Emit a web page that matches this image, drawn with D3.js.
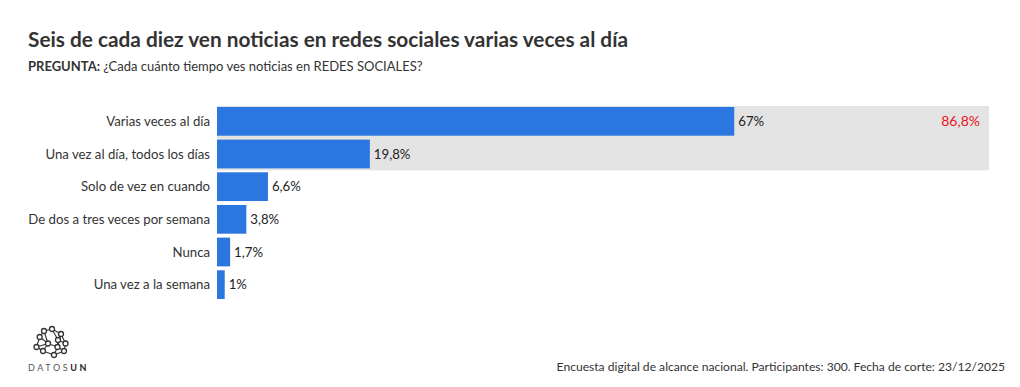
<!DOCTYPE html>
<html>
<head>
<meta charset="utf-8">
<script src="https://cdn.jsdelivr.net/npm/d3@7"></script>
<style>
  body { margin: 0; background: #fff; }
  svg { display: block; font-family: "Source Sans Pro", Lato, sans-serif; }
</style>
</head>
<body>
<div id="chart"></div>
<script>
const categories = ['Varias veces al día', 'Una vez al día, todos los días', 'Solo de vez en cuando',
  'De dos a tres veces por semana', 'Nunca', 'Una vez a la semana'];
const values = [67, 19.8, 6.6, 3.8, 1.7, 1];
const highlighted = ['Varias veces al día', 'Una vez al día, todos los días'];
const highlightTotal = 86.8;

const fmt = v => String(v).replace('.', ',') + '%';

const svg = d3.select('#chart').append('svg')
  .attr('width', 1020)
  .attr('height', 387);

// titles
svg.append('text')
  .attr('x', 28).attr('y', 47)
  .attr('font-size', '20.8px').attr('font-weight', 'bold').attr('fill', '#333')
  .text('Seis de cada diez ven noticias en redes sociales varias veces al día');

const sub = svg.append('text')
  .attr('x', 28).attr('y', 71)
  .attr('font-size', '13px').attr('fill', '#333');
sub.append('tspan').attr('font-weight', 'bold').text('PREGUNTA: ');
sub.append('tspan').text('¿Cada cuánto tiempo ves noticias en REDES SOCIALES?');

const x = d3.scaleLinear().domain([0, 100]).range([217, 989]);
const y = d3.scaleBand().domain(categories).range([106, 300]).paddingInner(0.12).paddingOuter(0.03);

// gray highlight band behind the first two rows
const y0 = y(highlighted[0]) - y.step() * y.paddingInner() / 2 + 1;
const y1 = y(highlighted[highlighted.length - 1]) + y.bandwidth() + y.step() * y.paddingInner() / 2;
svg.append('rect')
  .attr('x', x(0)).attr('y', y0)
  .attr('width', x(100) - x(0)).attr('height', y1 - y0)
  .attr('fill', '#e3e3e3');

svg.append('text')
  .attr('x', x(100) - 9).attr('y', y(highlighted[0]) + y.bandwidth() / 2)
  .attr('dy', '0.35em').attr('text-anchor', 'end')
  .attr('font-size', '14px').attr('fill', '#e8131b')
  .text(fmt(highlightTotal));

const rows = categories.map((c, i) => ({ cat: c, val: values[i] }));

svg.selectAll('.bar')
  .data(rows)
  .enter().append('rect')
  .attr('class', 'bar')
  .attr('x', x(0))
  .attr('y', d => y(d.cat))
  .attr('width', d => x(d.val) - x(0))
  .attr('height', y.bandwidth())
  .attr('fill', '#2b76e0');

svg.selectAll('.val')
  .data(rows)
  .enter().append('text')
  .attr('class', 'val')
  .attr('x', d => x(d.val) + 4)
  .attr('y', d => y(d.cat) + y.bandwidth() / 2)
  .attr('dy', '0.35em')
  .attr('font-size', '13.2px').attr('fill', '#222')
  .text(d => fmt(d.val));

svg.selectAll('.cat')
  .data(rows)
  .enter().append('text')
  .attr('class', 'cat')
  .attr('x', 210)
  .attr('y', d => y(d.cat) + y.bandwidth() / 2)
  .attr('dy', '0.35em')
  .attr('text-anchor', 'end')
  .attr('font-size', '13.2px').attr('fill', '#333')
  .text(d => d.cat);

// logo
const nodes = [[39.7, 337], [44, 331], [52, 329], [61, 334], [65.5, 343.5], [64, 351], [54, 355],
  [43, 351], [36.5, 347], [48, 343.5], [57.5, 347], [58, 340]];
const links = [[0, 1], [1, 2], [2, 3], [3, 4], [4, 5], [5, 6], [6, 7], [7, 8], [8, 0], [0, 9], [1, 9],
  [9, 10], [10, 5], [10, 6], [9, 7], [11, 3], [11, 4], [11, 10], [2, 11], [9, 8], [3, 10]];
const logo = svg.append('g');
logo.selectAll('line').data(links).enter().append('line')
  .attr('x1', d => nodes[d[0]][0]).attr('y1', d => nodes[d[0]][1])
  .attr('x2', d => nodes[d[1]][0]).attr('y2', d => nodes[d[1]][1])
  .attr('stroke', '#333').attr('stroke-width', 1.1);
logo.selectAll('circle').data(nodes).enter().append('circle')
  .attr('cx', d => d[0]).attr('cy', d => d[1]).attr('r', 2.5)
  .attr('fill', '#fff').attr('stroke', '#333').attr('stroke-width', 1.3);
const brand = svg.append('text')
  .attr('x', 28).attr('y', 371)
  .attr('font-size', '9px').attr('letter-spacing', '2.6px').attr('fill', '#555');
brand.append('tspan').text('DATOS');
brand.append('tspan').attr('font-weight', 'bold').attr('fill', '#222').text('UN');

svg.append('text')
  .attr('x', 1005).attr('y', 371)
  .attr('text-anchor', 'end')
  .attr('font-size', '12.1px').attr('fill', '#333')
  .text('Encuesta digital de alcance nacional. Participantes: 300. Fecha de corte: 23/12/2025');
</script>
</body>
</html>
